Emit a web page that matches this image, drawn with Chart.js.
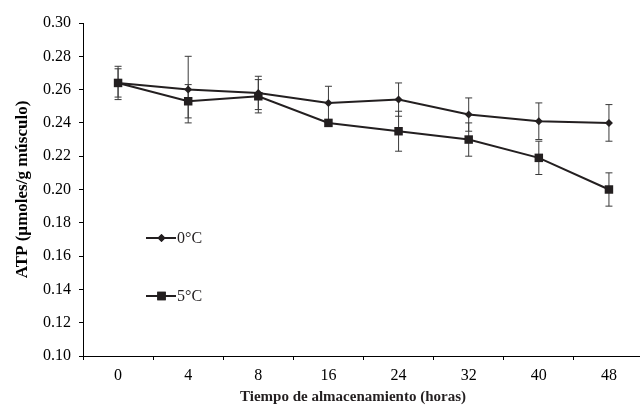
<!DOCTYPE html>
<html>
<head>
<meta charset="utf-8">
<script src="https://cdn.jsdelivr.net/npm/chart.js@4.4.1/dist/chart.umd.min.js"></script>
<style>
  html, body { margin: 0; padding: 0; background: #fff; overflow: hidden; }
  #wrap { width: 650px; height: 407px; }
</style>
</head>
<body>
<div id="wrap"><canvas id="atpChart" width="650" height="407"></canvas></div>
<script>
const horas = ['0', '4', '8', '16', '24', '32', '40', '48'];
const atp0 = [0.264, 0.260, 0.258, 0.252, 0.254, 0.245, 0.241, 0.240];
const err0 = [0.010, 0.020, 0.010, 0.010, 0.010, 0.010, 0.011, 0.011];
const atp5 = [0.264, 0.253, 0.256, 0.240, 0.235, 0.230, 0.219, 0.200];
const err5 = [0.0085, 0.010, 0.010, 0.002, 0.012, 0.010, 0.010, 0.010];
const yTicks = [0.10, 0.12, 0.14, 0.16, 0.18, 0.20, 0.22, 0.24, 0.26, 0.28, 0.30];

const serif = '"Liberation Serif", "Times New Roman", serif';
const ink = '#231f20';

// error bars, drawn under the lines
const errorBars = {
  id: 'errorBars',
  beforeDatasetsDraw(chart) {
    const { ctx, scales: { x, y } } = chart;
    ctx.save();
    ctx.strokeStyle = '#3a3a3a';
    ctx.lineWidth = 1;
    chart.data.datasets.forEach((ds) => {
      ds.data.forEach((v, i) => {
        const px = x.getPixelForValue(i);
        const top = y.getPixelForValue(v + ds.errors[i]);
        const bot = y.getPixelForValue(v - ds.errors[i]);
        ctx.beginPath();
        ctx.moveTo(px, top);
        ctx.lineTo(px, bot);
        ctx.moveTo(px - 3.5, top);
        ctx.lineTo(px + 3.5, top);
        ctx.moveTo(px - 3.5, bot);
        ctx.lineTo(px + 3.5, bot);
        ctx.stroke();
      });
    });
    ctx.restore();
  },
};

// legend inside the plot + x axis title
const extras = {
  id: 'extras',
  afterDraw(chart) {
    const { ctx } = chart;
    ctx.save();
    const rows = [
      { ds: chart.data.datasets[0], y: 238 },
      { ds: chart.data.datasets[1], y: 296 },
    ];
    rows.forEach(({ ds, y }) => {
      ctx.strokeStyle = ink;
      ctx.lineWidth = 2;
      ctx.beginPath();
      ctx.moveTo(146, y);
      ctx.lineTo(176, y);
      ctx.stroke();
      ctx.fillStyle = ink;
      Chart.helpers.drawPoint(ctx, { pointStyle: ds.pointStyle, radius: ds.pointRadius, borderWidth: 0 }, 161.5, y);
      ctx.fill();
      ctx.font = '16px ' + serif;
      ctx.textBaseline = 'middle';
      ctx.textAlign = 'left';
      ctx.fillText(ds.label, 177, y + 1);
    });
    ctx.font = 'bold 15px ' + serif;
    ctx.textAlign = 'center';
    ctx.textBaseline = 'middle';
    ctx.fillText('Tiempo de almacenamiento (horas)', 353, 397);
    ctx.restore();
  },
};

new Chart(document.getElementById('atpChart'), {
  type: 'line',
  data: {
    labels: horas,
    datasets: [
      {
        label: '0°C',
        data: atp0,
        errors: err0,
        borderColor: ink,
        backgroundColor: ink,
        borderWidth: 2,
        pointStyle: 'rectRot',
        pointRadius: 4,
        pointBorderWidth: 0,
        tension: 0,
      },
      {
        label: '5°C',
        data: atp5,
        errors: err5,
        borderColor: ink,
        backgroundColor: ink,
        borderWidth: 2,
        pointStyle: 'rect',
        pointRadius: 6,
        pointBorderWidth: 0,
        tension: 0,
      },
    ],
  },
  options: {
    responsive: false,
    animation: false,
    layout: { padding: { left: 0, top: 23, right: 1, bottom: 0 } },
    plugins: {
      legend: { display: false },
      tooltip: { enabled: false },
    },
    scales: {
      x: {
        type: 'category',
        offset: true,
        afterFit(scale) { scale.height = 51; },
        border: { display: true, color: '#000', width: 1 },
        grid: {
          offset: true,
          drawOnChartArea: false,
          drawTicks: true,
          tickLength: 4,
          color: '#000',
        },
        ticks: {
          color: '#000',
          padding: 6,
          maxRotation: 0,
          font: { family: serif, size: 16 },
        },
      },
      y: {
        min: 0.10,
        max: 0.30,
        afterFit(scale) { scale.width = 83; },
        afterBuildTicks(scale) { scale.ticks = yTicks.map((v) => ({ value: v })); },
        border: { display: true, color: '#000', width: 1 },
        grid: {
          drawOnChartArea: false,
          drawTicks: true,
          tickLength: 4,
          color: '#000',
        },
        ticks: {
          color: '#000',
          padding: 8,
          font: { family: serif, size: 16 },
          callback: (v) => Number(v).toFixed(2),
        },
        title: {
          display: true,
          text: 'ATP (µmoles/g músculo)',
          color: '#000',
          font: { family: serif, size: 17, weight: 'bold' },
          padding: { top: 12, bottom: 0 },
        },
      },
    },
  },
  plugins: [errorBars, extras],
});
</script>
</body>
</html>
